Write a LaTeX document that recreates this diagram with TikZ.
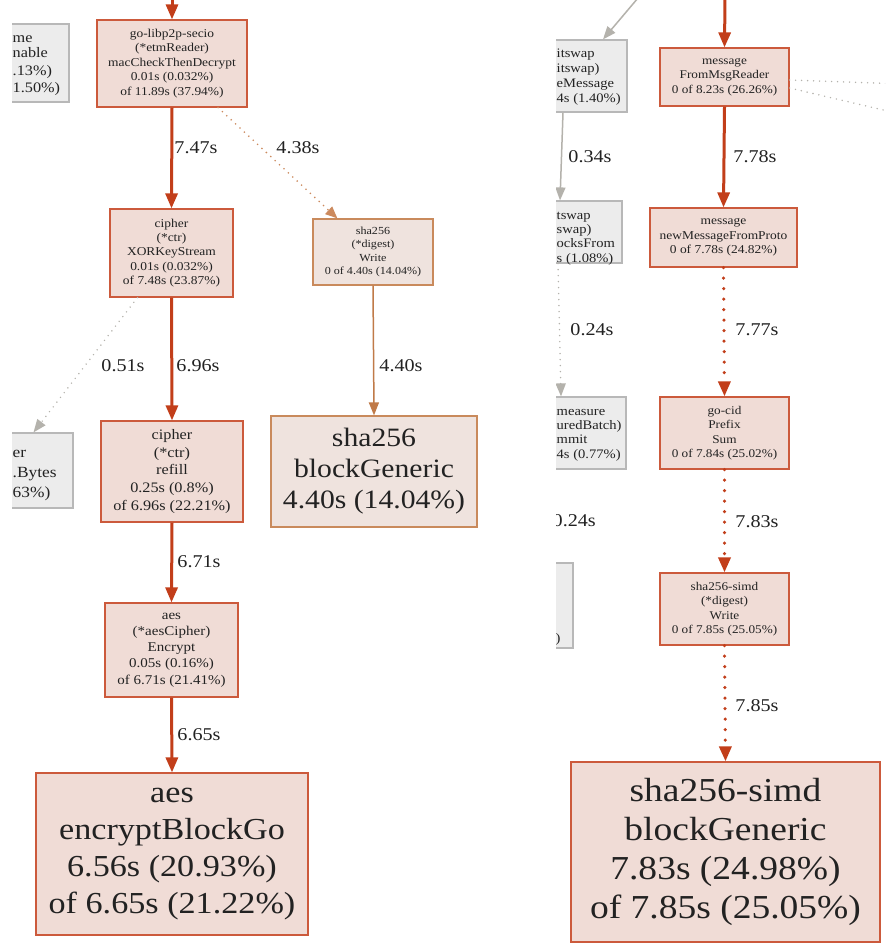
\documentclass[tikz,border=0pt]{standalone}
\usepackage{fontspec}
\setmainfont{Liberation Serif}[FakeStretch=1.12]
\usetikzlibrary{arrows.meta,calc}
\definecolor{redE}{HTML}{C23E1A}
\definecolor{redB}{HTML}{CC5A3C}
\definecolor{redF}{HTML}{F0DCD6}
\definecolor{brnB}{HTML}{C98A5C}
\definecolor{brnF}{HTML}{EFE3DE}
\definecolor{brnE}{HTML}{C07A48}
\definecolor{brnD}{HTML}{CC8A5E}
\definecolor{gryB}{HTML}{B8B8B8}
\definecolor{gryF}{HTML}{ECECEC}
\definecolor{gryE}{HTML}{B4B2AC}
\definecolor{txt}{HTML}{222222}
\newcommand\fs[2]{\fontsize{#1}{#2}\selectfont}
\begin{document}
\begin{tikzpicture}[x=1pt,y=-1pt,
 box/.style={rectangle, inner sep=0pt, align=center, text=txt, line width=1.2pt},
 rbox/.style={box, draw=redB, fill=redF},
 bbox/.style={box, draw=brnB, fill=brnF},
 gbox/.style={box, draw=gryB, fill=gryF},
 lbl/.style={text=txt, inner sep=0pt, font=\fs{18}{21}},
 frag/.style={text=txt, inner sep=0pt, anchor=base west},
 redthick/.style={draw=redE, line width=3pt, -{Triangle[length=15pt,width=12pt]}},
 reddot/.style={draw=redE, line width=3.5pt, line cap=round, dash pattern=on 0pt off 10.5pt, -{Triangle[length=15pt,width=12pt]}},
 brnsolid/.style={draw=brnE, line width=1.5pt, -{Triangle[length=13pt,width=10pt]}},
 brndot/.style={draw=brnD, line width=1.8pt, line cap=round, dash pattern=on 0pt off 6pt, -{Triangle[length=12pt,width=10pt]}},
 grysolid/.style={draw=gryE, line width=1.5pt, -{Triangle[length=13pt,width=10pt]}},
 grydot/.style={draw=gryE, line width=1.6pt, line cap=round, dash pattern=on 0pt off 6pt, -{Triangle[length=13pt,width=10pt]}}]
\useasboundingbox (0,0) rectangle (885,949);
\fill[white] (0,0) rectangle (885,949);

% ---------------- left panel ----------------
\begin{scope}
\clip (12,0) rectangle (540,949);
\node[rbox, minimum width=150, minimum height=87, font=\fs{12}{14.6}] (secio) at (172,63.5)
 {go-libp2p-secio\\(*etmReader)\\macCheckThenDecrypt\\0.01s (0.032\%)\\of 11.89s (37.94\%)};
\node[rbox, minimum width=123, minimum height=88, font=\fs{12}{14.3}] (xor) at (171.5,253)
 {cipher\\(*ctr)\\XORKeyStream\\0.01s (0.032\%)\\of 7.48s (23.87\%)};
\node[rbox, minimum width=142, minimum height=101, font=\fs{14.5}{17.7}] (refill) at (172,471.5)
 {cipher\\(*ctr)\\refill\\0.25s (0.8\%)\\of 6.96s (22.21\%)};
\node[rbox, minimum width=133, minimum height=94, font=\fs{13.4}{16.2}] (enc) at (171.5,650)
 {aes\\(*aesCipher)\\Encrypt\\0.05s (0.16\%)\\of 6.71s (21.41\%)};
\node[rbox, minimum width=272, minimum height=162, font=\fs{30.5}{37}] (bgo) at (172,854)
 {aes\\encryptBlockGo\\6.56s (20.93\%)\\of 6.65s (21.22\%)};
\node[bbox, minimum width=120, minimum height=66, font=\fs{10.8}{13.3}] (shaw) at (373,252)
 {sha256\\(*digest)\\Write\\0 of 4.40s (14.04\%)};
\node[bbox, minimum width=206, minimum height=111, font=\fs{26.5}{31}] (shbg) at (374,471.5)
 {sha256\\blockGeneric\\4.40s (14.04\%)};

\node[gbox, minimum width=130, minimum height=78] (g1) at (4,63) {};
\node[frag, font=\fs{14.5}{17}] (g1a) at (12.5,43) {me};
\node[frag, font=\fs{14.5}{17}] (g1b) at (12.5,58) {nable};
\node[frag, font=\fs{14.5}{17}] (g1c) at (12.5,76) {.13\%)};
\node[frag, font=\fs{14.5}{17}] (g1d) at (12.5,93) {1.50\%)};

\node[gbox, minimum width=133, minimum height=75] (g2) at (6.5,470.5) {};
\node[frag, font=\fs{15.5}{20}] (g2a) at (12.5,457) {er};
\node[frag, font=\fs{15.5}{20}] (g2b) at (12.5,477) {.Bytes};
\node[frag, font=\fs{15.5}{20}] (g2c) at (12.5,497) {63\%)};

\coordinate (sin) at (172,-2);
\coordinate (gin) at (2,-2);
\draw[redthick] (sin) -- (secio.north);
\draw[grysolid] (gin) -- ($(g1.north)+(6,0)$);
\draw[redthick] (secio.south) -- (xor.north);
\draw[brndot] ($(secio.south)+(46,0)$) -- ($(shaw.north west)+(25,0)$);
\draw[grydot] ($(xor.south)+(-34,0)$) -- ($(g2.north)+(27,0)$);
\draw[redthick] (xor.south) -- (refill.north);
\draw[brnsolid] (shaw.south) -- (shbg.north);
\draw[redthick] (refill.south) -- (enc.north);
\draw[redthick] (enc.south) -- (bgo.north);

\node[lbl] (l747) at (196,148) {7.47s};
\node[lbl] (l438) at (298,148) {4.38s};
\node[lbl] (l051) at (123,366) {0.51s};
\node[lbl] (l696) at (198,366) {6.96s};
\node[lbl] (l440) at (401,366) {4.40s};
\node[lbl] (l671) at (199,562) {6.71s};
\node[lbl] (l665) at (199,735) {6.65s};
\end{scope}

% ---------------- right panel ----------------
\begin{scope}
\clip (556,0) rectangle (885,949);
\node[rbox, minimum width=129, minimum height=58, font=\fs{11.8}{14.5}] (msg) at (724.5,77)
 {message\\FromMsgReader\\0 of 8.23s (26.26\%)};
\node[rbox, minimum width=147, minimum height=59, font=\fs{12}{14.5}] (nmp) at (723.5,237.5)
 {message\\newMessageFromProto\\0 of 7.78s (24.82\%)};
\node[rbox, minimum width=129, minimum height=72, font=\fs{11.8}{14.4}] (cid) at (724.5,433)
 {go-cid\\Prefix\\Sum\\0 of 7.84s (25.02\%)};
\node[rbox, minimum width=129, minimum height=72, font=\fs{11.8}{14.4}] (sw) at (724.5,609)
 {sha256-simd\\(*digest)\\Write\\0 of 7.85s (25.05\%)};
\node[rbox, minimum width=309, minimum height=180, font=\fs{33.5}{39}] (sbg) at (725.5,852)
 {sha256-simd\\blockGeneric\\7.83s (24.98\%)\\of 7.85s (25.05\%)};

\node[gbox, minimum width=147, minimum height=72] (rg1) at (553.5,76) {};
\node[frag, font=\fs{13}{15}] (rg1a) at (556.5,57.5) {itswap};
\node[frag, font=\fs{13}{15}] (rg1b) at (556.5,72.5) {itswap)};
\node[frag, font=\fs{13}{15}] (rg1c) at (556.5,87.5) {eMessage};
\node[frag, font=\fs{13}{15}] (rg1d) at (556.5,102.5) {4s (1.40\%)};

\node[gbox, minimum width=142, minimum height=62] (rg2) at (551,232) {};
\node[frag, font=\fs{13}{15}] (rg2a) at (556.5,219.5) {tswap};
\node[frag, font=\fs{13}{15}] (rg2b) at (556.5,233.5) {swap)};
\node[frag, font=\fs{13}{15}] (rg2c) at (556.5,247.5) {ocksFrom};
\node[frag, font=\fs{13}{15}] (rg2d) at (556.5,262.5) {s (1.08\%)};

\node[gbox, minimum width=146, minimum height=72] (rg3) at (553,433) {};
\node[frag, font=\fs{13}{15}] (rg3a) at (556.5,415) {measure};
\node[frag, font=\fs{13}{15}] (rg3b) at (556.5,429.5) {uredBatch)};
\node[frag, font=\fs{13}{15}] (rg3c) at (556.5,443.5) {mmit};
\node[frag, font=\fs{13}{15}] (rg3d) at (556.5,458.5) {4s (0.77\%)};

\node[gbox, minimum width=93, minimum height=85] (rg4) at (526.5,605.5) {};
\node[frag, font=\fs{13}{15}] (rg4a) at (555.5,642) {)};

\coordinate (min) at (725,-2);
\coordinate (rin) at (638,-2);
\coordinate (tr1) at (960,86);
\coordinate (tr2) at (960,128);
\draw[redthick] (min) -- (msg.north);
\draw[grysolid] (rin) -- ($(rg1.north)+(49.5,0)$);
\draw[grydot] ($(msg.east)+(0,3)$) -- (tr1);
\draw[grydot] ($(msg.east)+(0,11)$) -- (tr2);
\draw[redthick] (msg.south) -- (nmp.north);
\draw[reddot] (nmp.south) -- (cid.north);
\draw[reddot] (cid.south) -- (sw.north);
\draw[reddot] (sw.south) -- (sbg.north);
\draw[grysolid] ($(rg1.south)+(9.5,0)$) -- ($(rg2.north)+(9,0)$);
\draw[grydot] ($(rg2.south)+(7,0)$) -- ($(rg3.north)+(8,0)$);

\node[lbl] (l778) at (755,157) {7.78s};
\node[lbl] (l777) at (757,330) {7.77s};
\node[lbl] (l783) at (757,522) {7.83s};
\node[lbl] (l785) at (757,706) {7.85s};
\node[lbl] (l034) at (590,157) {0.34s};
\node[lbl] (l024) at (592,330) {0.24s};
\node[lbl, anchor=east] (l024b) at (596,521) {0.24s};
\end{scope}
\end{tikzpicture}
\end{document}
